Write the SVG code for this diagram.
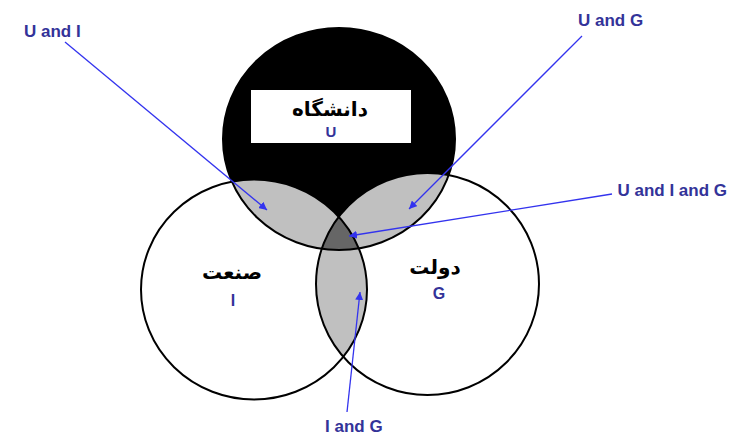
<svg xmlns="http://www.w3.org/2000/svg" width="729" height="435" viewBox="0 0 729 435">
<style>
.outline{fill:none;stroke:#000;stroke-width:2}
.fa{font-family:"DejaVu Sans",sans-serif;font-weight:bold;fill:#000;text-anchor:middle}
.ltr{font-family:"Liberation Sans",Arial,sans-serif;font-weight:bold;fill:#333399}
.mid{text-anchor:middle}
.conn{stroke:#3333ee;stroke-width:1.3;fill:none;marker-end:url(#ah)}
</style>
<defs>
<marker id="ah" viewBox="0 0 10 10" refX="10" refY="5" markerWidth="8" markerHeight="8" markerUnits="userSpaceOnUse" orient="auto">
<path d="M0,0 L10,5 L0,10 z" fill="#3333ee"/>
</marker>
<clipPath id="cU"><ellipse cx="339" cy="139" rx="116" ry="111"/></clipPath>
<clipPath id="cI"><ellipse cx="254" cy="289.5" rx="113" ry="110"/></clipPath>
<clipPath id="cG"><ellipse cx="427.5" cy="284" rx="111.5" ry="111"/></clipPath>
</defs>
<rect width="729" height="435" fill="#fff"/>
<g id="node-U">
<ellipse cx="339" cy="139" rx="116" ry="111" fill="#000"/>
</g>
<g id="node-I">
<ellipse cx="254" cy="289.5" rx="113" ry="110" fill="#fff"/>
</g>
<g id="node-G">
<ellipse cx="427.5" cy="284" rx="111.5" ry="111" fill="#fff"/>
</g>
<g id="regions">
<g clip-path="url(#cU)"><ellipse cx="254" cy="289.5" rx="113" ry="110" fill="#c0c0c0"/></g>
<g clip-path="url(#cU)"><ellipse cx="427.5" cy="284" rx="111.5" ry="111" fill="#c0c0c0"/></g>
<g clip-path="url(#cI)"><ellipse cx="427.5" cy="284" rx="111.5" ry="111" fill="#c0c0c0"/></g>
<g clip-path="url(#cU)"><g clip-path="url(#cI)"><ellipse cx="427.5" cy="284" rx="111.5" ry="111" fill="#666"/></g></g>
</g>
<g id="outlines">
<ellipse class="outline" cx="339" cy="139" rx="116" ry="111"/>
<ellipse class="outline" cx="254" cy="289.5" rx="113" ry="110"/>
<ellipse class="outline" cx="427.5" cy="284" rx="111.5" ry="111"/>
</g>
<g id="label-U">
<rect x="251" y="90" width="160" height="53" fill="#fff"/>
<text class="fa" x="330" y="116" font-size="20">دانشگاه</text>
<text class="ltr mid" x="331" y="137" font-size="15">U</text>
</g>
<g id="label-I">
<text class="fa" x="232" y="279" font-size="20">صنعت</text>
<text class="ltr mid" x="233" y="306" font-size="16">I</text>
</g>
<g id="label-G">
<text class="fa" x="435" y="274" font-size="20">دولت</text>
<text class="ltr mid" x="439" y="299" font-size="16">G</text>
</g>
<g id="connectors">
<line class="conn" x1="65" y1="42" x2="267" y2="210"/>
<line class="conn" x1="582" y1="36" x2="409" y2="209"/>
<line class="conn" x1="612" y1="194" x2="349" y2="236"/>
<line class="conn" x1="347" y1="412" x2="360" y2="292"/>
</g>
<g id="labels">
<text class="ltr" x="24" y="37" font-size="17">U and I</text>
<text class="ltr" x="578" y="26" font-size="17">U and G</text>
<text class="ltr" x="727" y="196" font-size="17" text-anchor="end">U and I and G</text>
<text class="ltr" x="325" y="432" font-size="17">I and G</text>
</g>
</svg>
